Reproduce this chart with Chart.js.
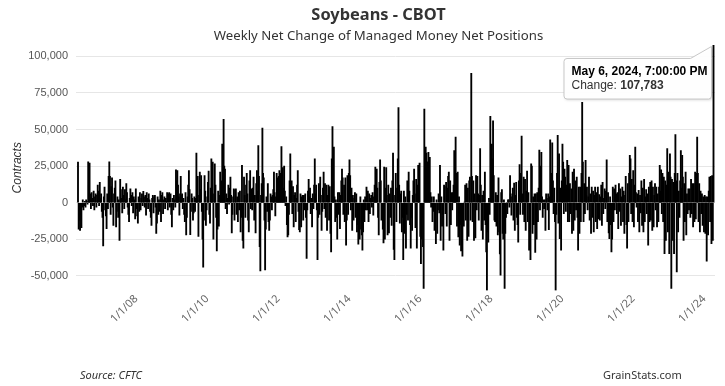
<!DOCTYPE html>
<html><head><meta charset="utf-8">
<script src="https://cdn.jsdelivr.net/npm/chart.js@4/dist/chart.umd.min.js"></script>
<style>
html,body{margin:0;padding:0;background:#fff;}
#wrap{position:relative;width:725px;height:386px;overflow:hidden;background:#fff;}
#c{position:absolute;left:0;top:0;}
.t{position:absolute;white-space:nowrap;color:#333;}
#title{left:378.5px;top:6px;transform:translateX(-50%);font:bold 16.4px/16px "Noto Sans",sans-serif;color:#333;}
#subtitle{left:378.5px;top:29px;transform:translateX(-50%);font:13.2px/13px "Noto Sans",sans-serif;color:#333;}
#source{left:80px;top:369px;font:italic 11px/11px "Noto Sans",sans-serif;color:#333;}
#site{left:603px;top:369px;font:11px/11px "Noto Sans",sans-serif;color:#333;}
</style></head><body>
<div id="wrap">
<canvas id="c" width="725" height="386"></canvas>
<div class="t" id="title">Soybeans - CBOT</div>
<div class="t" id="subtitle">Weekly Net Change of Managed Money Net Positions</div>
<div class="t" id="source">Source: CFTC</div>
<div class="t" id="site">GrainStats.com</div>
</div>
<script>
// Weekly net change of managed money net positions, thousands of contracts,
// one value per weekly CFTC report starting 2006-06-13 (Tuesdays)
const firstReport = '2006-06-13';
const netChange2006_08 = [27.7,-18,-12,-19,-8,-17,-3,2,-5,-2, 1,-3,2,1,-1,28,12,27,6,-4, 7,3,-2,8,-5,4,6,-3,5,12, 8,-2,14,3,6,-6,-10,-29.5,4,10.7, -5,-9,-17.7,6,-4,18,28,18,-8,11, 17,-3,-15.5,6,10,15,-16.5,-6,4,-10, 2,-25.7,16,9,3,-7,10.7,5,-4,9, 2,13,7,-3,-8,-13,3,9.5,5,-2, 7,-7,4,2,-11,9.5,-4,-9,-14,4, -6,7,-5,3,6,-2,7.7,4,-3,5, -8.6,7,3,-4,6,2,-6,-10,-15.5,3, 5,-7,4,5,-3];
const netChange2008_10 = [-21,-14,4,-8,2,-6,8,-13,5,7, -7.5,2,4,-4,3,1,7,-5,6,7, -3,6,-8,-16.5,3,-5,5,2,-3,22.5, 15,22,12,4,-8.6,6,18,5,6,-4, 3,-8,-13,7,-22,-10,4,12,22,9, -21.8,-6,6,3,-12,-7,4,-6,3,34, 12,18,-23,5,21,9,18.6,-6,-25,-44, -12,18.6,8,-15.5,-5,4,14,21.6,-8,-14, 10,30,16,27.7,-25,6,26.6,12,-10,-33, -18,8,-16,5,21,10,15,40,22,57, 25,23,-4,6,-7.5,3,12,-1,10,17.5, 5,-20.7,-8,4,9.5,-12,9];
const netChange2010_13 = [9.5,-8,4,-13,7,-5,8,-20,-10,25.5, -25.7,-31,17.5,5,-10,12,20,6,-12,-20, 15,22,-4,9.5,-5,10,17.5,-12,5,-20.7, 13,22,8,39,18,-30,-46.6,5,13,51, 20,17,-12,-46,-18,4,-6,13,-13,-19, -12,6,4,-5,5,9,21,7,-9,4, 20,17,8,18,22,12,20,38.4,15,24, 10,25,8,-2,4,-15,-23.4,-22,-8,15, 33.4,10,15,-7.5,11,-16.5,5,7,-13,3, 12,22,-6,-18.4,-20,6,-16.5,4,5,-12, 5,-5,6,-10,-38,-5,8,16,4,10, -7.5,3,-16.5,6,-4,12,30,6];
const netChange2013_15 = [12,-5,-39,-10,13,-8,17.5,5,-19,-6, 10,21,-4,13,-10,12,-19,5,12,-12, 11,-21,-33.6,30,52,15,38,4,-13,2, -10,-25,7,-8,7,-17.7,5,15,23,17, -8,12,-13,17,-29,-12,18.6,-8,20,29.3, 18.6,-5,10,-19,5,-12,3,7,-10,6, -20,-15,-28.4,-12,-25,4,-18,-22,-32.5,-20, 2,-13,4,-5,10.7,-5,8,-13,6,-7.5, 3,5,-3,7,-8.6,4,12,24.3,8,23, 10,-10,-22,14,29.3,15,-12,-8,-18,-27.5, 24.3,-25,10,24,5,-22,12,-20.7,6,-10, 10,-15.5,15,34,-32,-39,5];
const netChange2015_17 = [20,-13,10,30,65,12,-14,6,8,-20, -10,-39,8,-21,4,-31,-8,15,-12,21, 8,-15,-31,-10,-19,5,15,23,6,-17, 16,-31,12,25.5,14,27,-23,-41.6,-25,-10, -30,-58.6,64,25,38,34,21,28,34.5,22, 31,7,-3,4,-13,-6,4,-19,-12,-28, 2,-21,-5,6,-7,25.5,-25.7,4,-16,-8, -32.5,12,11,-7.5,14,-16,10,18,21,-25.7, 15,-15,7,-5,7,12,35.7,20,44.8,20, -16,21,-23.4,4,-29,-15,-33,-20,-36.6,-10, -16,0.5,12,-12,13,-25.7,10,-23,15,17.5, -12,88.4,18,-13,15,-25.7,6,-24];
const netChange2017_20 = [18.6,-5,18,6,-12,5,37,12,-19,5, -25,8,-12,21,-15,-33.6,-60,-20,-27,3, -8,59,20,40,30,56,18.6,-12,-13,7, -16,5,-22,17,-20,-35,-49.5,7,9,-21, -25,2,-58.6,-21,-10,0,-7.5,2,2,-3, 18.6,6,-8.6,4,10,-12,13.4,-19,5,14, -10,-15,-27,15,26,-8,20,45.5,6,-8, 17.5,-13,16,-19,8,21.6,-13,7,-32.5,-20, -39,26.6,25,-21,4,-15,6,-34,6,-25, 7,-13,10,36,-5,25,34.5,4,-10,2, -4,2,-19,6,3,-5,6,-18.4,4,43, 12,20,41,15,-7.5,10,-13];
const netChange2020_22 = [-60,-8,20,46,-14,33.4,-24.5,10,-32.5,15, 40,27.7,-7.5,23,17.5,-6,12,29,-13,25.5, -13,13,-7.5,9.5,-21,21,-19,23,-12,15, -5,17.5,-10,-32.5,10.7,-21,10.7,-13,20,68.6, 27.7,-13,13,-7.5,29,5,10.7,-5,4,17.5, -12,6,-21,10.7,-10,8,-20,5,10.7,-13, 7,-17.7,10.7,-11,5.5,-12,4,12,-15.5,14, -7.5,3,9.5,-4,8,29.3,-13,7,-20.7,-24.5, 4,-15,-33.6,-25,10.7,-13,9.5,-5,12,6, -7.5,7,-17.7,13,-6,9.5,-15.5,4,10.7,-13, 8,-21,5,18,-15,-31,13,-13,20,32.3, 30,-7.5,16,-13,22,-16.5,12,38];
const netChange2022_24 = [7,-3,6,-13,8.4,-20,5,-7,15,-15.5, 10,-20,16,-13,4,9,-7.5,6,-29,10.7, -13,14,-12,15,-19,10.7,-16.5,5,13,-5, 10.7,-16.5,6,-13,10.7,25.5,8,22.5,-7.5,20, -13,17.5,-34.8,15,-25.7,12,37,-20,21,-34.8, 33.4,17.5,-58.6,16,-25.7,14,-34.8,20,46.6,15, -47.3,20,-20,8,-10,15,35.7,10,32.3,17.5, -25.7,13,-13,21,-22,6,-7.5,9.5,-5,9.5, -10,16,-7.5,13,-16.5,13,-13,21,-11,20, 44.8,20,-13,13,-20,8,-7.5,6,-15.5,4, -20,5,-21,4,-40,4,-22,8,17.5,-13, 18,-28,18.6,-25.7,107.783];
const xTickLabels = ['1/1/08','1/1/10','1/1/12','1/1/14','1/1/16','1/1/18','1/1/20','1/1/22','1/1/24'];
const yTickValues = [-50000,-25000,0,25000,50000,75000,100000];
const yAxisTitle = 'Contracts';
const seriesName = 'Change';

const DAY = 86400000, WEEK = 7*DAY;
const values = [].concat(netChange2006_08, netChange2008_10, netChange2010_13, netChange2013_15,
  netChange2015_17, netChange2017_20, netChange2020_22, netChange2022_24).map(v => Math.round(v*1000));
const t0 = Date.parse(firstReport + 'T00:00:00Z');
const points = values.map((v,i) => ({x: t0 + i*WEEK, y: v}));
const xTickValues = xTickLabels.map(s => { const p = s.split('/'); return Date.UTC(2000 + (+p[2]), +p[0]-1, +p[1]); });
const lastPt = points[points.length-1];
const yMin = Math.min(...values), yMax = Math.max(...values);

const MONTHS = ['Jan','Feb','Mar','Apr','May','Jun','Jul','Aug','Sep','Oct','Nov','Dec'];
function fmtDate(ms){ // shown in US Central (UTC-5 during DST)
  const d = new Date(ms - 5*3600000);
  let h = d.getUTCHours(); const ap = h>=12?'PM':'AM'; h = h%12; if(h===0) h=12;
  const mm = String(d.getUTCMinutes()).padStart(2,'0'), ss = String(d.getUTCSeconds()).padStart(2,'0');
  return `${MONTHS[d.getUTCMonth()]} ${d.getUTCDate()}, ${d.getUTCFullYear()}, ${h}:${mm}:${ss} ${ap}`;
}

const tipPlugin = {
  id: 'fixedTip',
  afterDraw(chart){
    const ctx = chart.ctx, xs = chart.scales.x, ys = chart.scales.y;
    const px = xs.getPixelForValue(lastPt.x), py = ys.getPixelForValue(lastPt.y);
    const L = px - 149.5, T = py + 13.5, W = 147.5, H = 40.5, r = 3;
    const tipX = px - 2, tipY = py + 1.5;
    ctx.save();
    ctx.beginPath();
    ctx.moveTo(L + r, T);
    ctx.lineTo(L + W - 21, T);
    ctx.lineTo(tipX, tipY);
    ctx.lineTo(L + W, T);
    ctx.lineTo(L + W, T + H - r);
    ctx.quadraticCurveTo(L + W, T + H, L + W - r, T + H);
    ctx.lineTo(L + r, T + H);
    ctx.quadraticCurveTo(L, T + H, L, T + H - r);
    ctx.lineTo(L, T + r);
    ctx.quadraticCurveTo(L, T, L + r, T);
    ctx.closePath();
    ctx.shadowColor = 'rgba(0,0,0,0.18)'; ctx.shadowBlur = 3; ctx.shadowOffsetX = 1; ctx.shadowOffsetY = 1;
    ctx.fillStyle = 'rgba(255,255,255,0.97)';
    ctx.fill();
    ctx.shadowColor = 'transparent';
    ctx.strokeStyle = '#c8c8c8'; ctx.lineWidth = 1;
    ctx.stroke();
    ctx.textBaseline = 'alphabetic'; ctx.textAlign = 'left';
    ctx.fillStyle = '#000';
    ctx.font = 'bold 12px "Liberation Sans", Arial, sans-serif';
    ctx.fillText(fmtDate(lastPt.x), L + 7.5, T + 16.5);
    ctx.fillStyle = '#333';
    ctx.font = '12px "Liberation Sans", Arial, sans-serif';
    const lab = seriesName + ': ';
    ctx.fillText(lab, L + 7.5, T + 30);
    const w = ctx.measureText(lab).width;
    ctx.font = 'bold 12px "Liberation Sans", Arial, sans-serif';
    ctx.fillStyle = '#333';
    ctx.fillText(lastPt.y.toLocaleString('en-US'), L + 7.5 + w, T + 30);
    ctx.restore();
  }
};

new Chart(document.getElementById('c'), {
  type: 'bar',
  data: { datasets: [{ label: seriesName, data: points, backgroundColor: '#000', borderWidth: 0, barThickness: 1.2, grouped: false }] },
  options: {
    responsive: false, animation: false, events: [],
    layout: { padding: { left: 10, right: 10, top: 45, bottom: 0 } },
    plugins: { legend: { display: false }, tooltip: { enabled: false } },
    scales: {
      x: {
        type: 'linear', offset: false,
        min: t0 - 2.94*WEEK, max: t0 + 936.2*WEEK,
        grid: { display: false, drawTicks: false }, border: { display: false },
        afterBuildTicks: s => { s.ticks = xTickValues.map(v => ({ value: v })); },
        afterFit: s => { s.height = 95.5; s.paddingLeft = 0; s.paddingRight = 0; },
        ticks: { autoSkip: false, minRotation: 45, maxRotation: 45, padding: 2, labelOffset: 3, color: '#666',
          font: { family: '"Noto Sans", sans-serif', size: 11 },
          callback: (v, i) => xTickLabels[i] }
      },
      y: {
        min: yMin, max: yMax,
        afterBuildTicks: s => { s.ticks = yTickValues.map(v => ({ value: v })); },
        afterFit: s => { s.width = 66; s.paddingTop = 0; s.paddingBottom = 0; },
        grid: { color: '#e6e6e6', lineWidth: 1, drawTicks: false }, border: { display: false },
        ticks: { padding: 8, color: '#555', font: { family: '"Liberation Sans", Arial, sans-serif', size: 11 },
          callback: v => v.toLocaleString('en-US') },
        title: { display: true, text: yAxisTitle, color: '#333', padding: 0,
          font: { family: '"Liberation Sans", Arial, sans-serif', size: 12, style: 'italic' } }
      }
    }
  },
  plugins: [tipPlugin]
});
</script>
</body></html>
